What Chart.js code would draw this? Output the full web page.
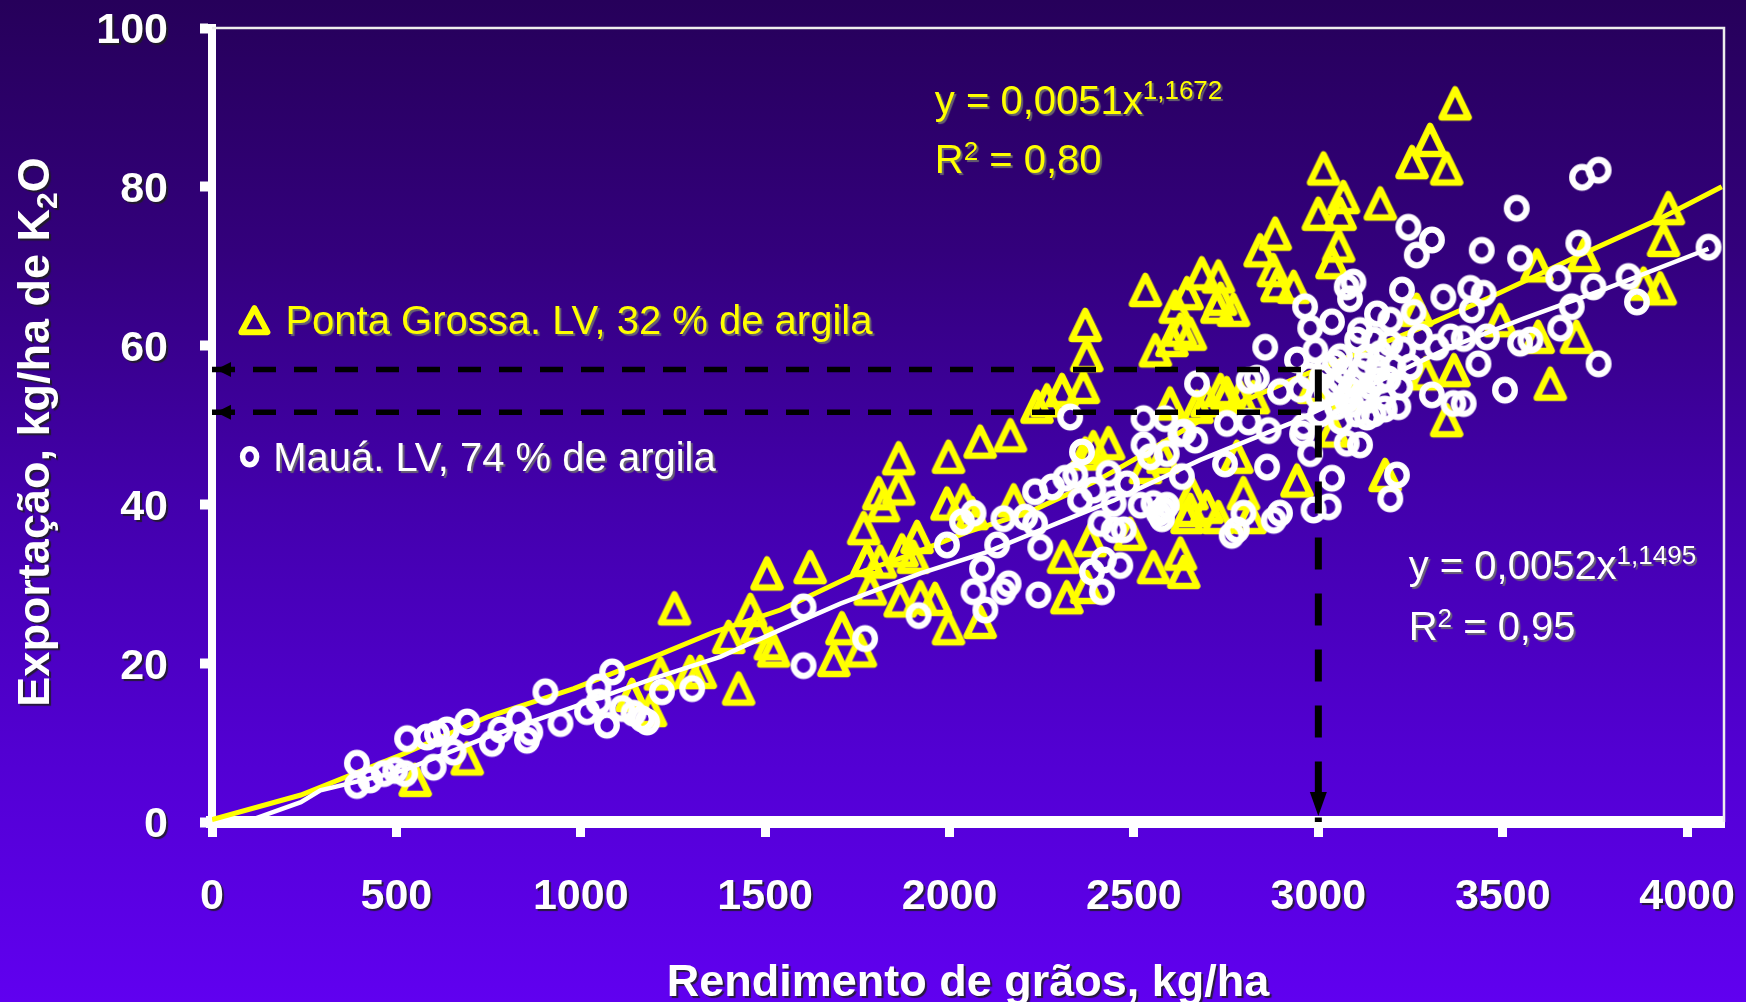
<!DOCTYPE html>
<html>
<head>
<meta charset="utf-8">
<title>Exportação de K2O</title>
<script src="https://cdn.jsdelivr.net/npm/chart.js@4.4.1/dist/chart.umd.min.js"></script>
<style>
  html, body { margin: 0; padding: 0; }
  body {
    width: 1746px; height: 1002px; overflow: hidden;
    background: linear-gradient(to bottom, #26005a 0%, #33007c 25%, #4300ac 50%, #5200d2 75%, #6000f0 100%);
  }
  canvas { display: block; }
</style>
</head>
<body>
<canvas id="chart" width="1746" height="1002"></canvas>
<script>
// Ponta Grossa, LV 32 % argila (triângulos)
const pontaX = [551, 692, 1139, 1189, 1216, 1254, 1297, 1324, 1401, 1428,
  1460, 1478, 1505, 1514, 1523, 1622, 1686, 1708, 1758, 1767,
  1776, 1785, 1808, 1812, 1821, 1862, 1862, 1866, 1871, 1902,
  1912, 1921, 1961, 1993, 1997, 1997, 2038, 2061, 2083, 2083,
  2165, 2174, 2237, 2264, 2305, 2309, 2318, 2363, 2368, 2372,
  2368, 2372, 2381, 2390, 2431, 2490, 2531, 2531, 2553, 2558,
  2579, 2598, 2603, 2612, 2626, 2626, 2635, 2644, 2644, 2653,
  2653, 2657, 2671, 2684, 2698, 2698, 2725, 2729, 2729, 2735,
  2735, 2752, 2770, 2779, 2788, 2797, 2815, 2824, 2842, 2878,
  2883, 2888, 2933, 2942, 2987, 3000, 3014, 3037, 3040, 3055,
  3059, 3068, 3080, 3168, 3181, 3254, 3267, 3291, 3303, 3348,
  3348, 3368, 3371, 3493, 3593, 3596, 3629, 3700, 3720, 3882,
  3927, 3936, 3949];
const pontaY = [5.3, 8.0, 16.0, 14.1, 18.7, 26.9, 18.9, 18.9, 23.3, 16.8,
  26.7, 24.6, 31.3, 22.5, 21.6, 32.1, 20.4, 24.4, 21.6, 37.0,
  33.0, 29.4, 41.4, 32.8, 39.9, 45.8, 42.0, 27.9, 34.2, 33.4,
  35.9, 28.3, 28.1, 40.1, 46.0, 24.4, 40.5, 38.9, 47.9, 25.2,
  48.7, 40.5, 52.3, 53.1, 54.4, 33.4, 28.3, 54.8, 62.6, 58.8,
  46.4, 29.6, 35.5, 47.2, 47.7, 36.3, 67.0, 44.7, 32.1, 59.4,
  46.0, 52.7, 60.7, 64.9, 62.0, 33.8, 31.5, 66.6, 38.4, 61.5,
  39.3, 41.4, 52.3, 69.1, 53.1, 39.7, 64.9, 68.7, 38.4, 65.9,
  54.4, 54.0, 64.5, 46.0, 53.5, 41.4, 38.4, 53.5, 72.0, 69.5,
  74.1, 67.6, 67.4, 43.0, 54.8, 76.6, 82.3, 70.5, 49.3, 72.6,
  76.6, 78.7, 54.0, 77.9, 43.7, 83.1, 64.5, 56.5, 85.9, 82.3,
  50.6, 56.9, 90.5, 63.2, 70.1, 61.1, 55.2, 61.1, 71.4, 67.8,
  67.2, 73.3, 77.3];

// Mauá, LV 74 % argila (círculos)
const mauaX = [393, 393, 429, 466, 497, 524, 529, 583, 601, 610,
  637, 655, 692, 759, 782, 832, 854, 863, 904, 945,
  1017, 1048, 1048, 1071, 1085, 1112, 1143, 1166, 1180, 1220,
  1302, 1604, 1604, 1771, 1916, 1993, 2034, 2065, 2088, 2065,
  2097, 2129, 2146, 2160, 2146, 2205, 2232, 2246, 2241, 2232,
  2278, 2314, 2341, 2359, 2327, 2386, 2418, 2463, 2413, 2354,
  2390, 2431, 2445, 2481, 2409, 2445, 2472, 2518, 2567, 2589,
  2526, 2585, 2526, 2544, 2589, 2626, 2666, 2630, 2671, 2856,
  2942, 2992, 2978, 2964, 3037, 3077, 3095, 2811, 2833, 2896,
  2635, 2752, 2811, 2865, 2956, 2747, 2861, 2978, 3037, 2987,
  3028, 2896, 2879, 2797, 2779, 2765, 3077, 3113, 2553, 2580,
  2576, 3760, 3715, 3538, 3244, 3308, 3267, 3443, 3547, 3705,
  4058, 3651, 3746, 3841, 3864, 3687, 3339, 3227, 3412, 3448,
  3416, 3086, 3159, 3113, 3195, 3258, 3276, 3195, 3150, 3105,
  3358, 3394, 3457, 3434, 3547, 3575, 3656, 3760, 3506, 3308,
  3366, 3394, 3321, 3249, 3217, 3132, 3213, 3195, 3059, 3086,
  3113, 3141, 3168, 3177, 3132, 3077, 3050, 3104, 3150, 3204,
  3222, 3023, 3005, 2960, 3023, 3168, 3132, 3059, 3000, 3040,
  3010, 3045, 3070, 3095, 3125, 3160, 3190, 3060, 3090, 3120,
  3180, 3230, 2950, 2975];
const mauaY = [7.4, 4.6, 5.3, 6.1, 6.5, 6.1, 10.5, 10.7, 6.9, 11.1,
  11.6, 8.8, 12.6, 9.9, 11.6, 13.0, 10.3, 11.3, 16.4, 12.4,
  13.9, 17.0, 15.1, 12.2, 18.9, 14.3, 13.7, 13.0, 12.6, 16.4,
  16.8, 27.1, 19.7, 23.1, 26.0, 34.9, 37.8, 38.9, 31.9, 29.0,
  26.7, 34.9, 38.2, 30.0, 29.0, 38.4, 37.6, 34.6, 28.6, 41.6,
  42.2, 43.3, 43.7, 46.6, 51.0, 31.5, 33.0, 32.3, 29.0, 40.5,
  41.8, 43.9, 40.1, 42.6, 37.6, 36.8, 36.8, 39.9, 38.9, 39.9,
  50.8, 50.8, 47.5, 46.0, 46.4, 48.9, 48.1, 43.5, 55.2, 59.8,
  58.2, 59.4, 62.2, 64.9, 63.0, 67.4, 68.0, 55.6, 55.9, 54.2,
  49.1, 50.2, 50.4, 49.3, 48.9, 45.1, 44.7, 46.4, 43.3, 39.3,
  39.7, 38.9, 38.0, 38.9, 36.8, 36.1, 47.7, 47.5, 40.1, 39.3,
  38.2, 82.1, 81.2, 77.3, 74.9, 73.3, 71.4, 72.0, 71.0, 72.9,
  72.4, 68.5, 67.4, 68.7, 65.5, 64.9, 66.1, 67.0, 67.2, 66.6,
  64.5, 65.9, 64.0, 61.9, 63.2, 64.2, 61.1, 60.3, 60.7, 60.7,
  61.1, 60.9, 61.1, 57.7, 60.3, 60.7, 62.2, 57.7, 54.4, 53.8,
  52.7, 52.7, 59.8, 57.3, 52.3, 51.0, 43.7, 40.7, 55.6, 54.4,
  56.5, 54.8, 55.6, 53.5, 53.1, 53.1, 52.3, 51.4, 51.4, 57.3,
  54.8, 54.0, 51.4, 49.8, 57.3, 59.0, 58.6, 58.6, 53.5, 55.0,
  56.0, 57.8, 56.8, 55.2, 57.5, 57.2, 55.8, 50.5, 52.6, 53.9,
  52.0, 59.5, 54.5, 56.2];

// curvas ajustadas (potência), lidas ponto a ponto
const fitPontaX = [0, 241, 520, 746, 981, 1189, 1360, 1541, 1749, 1902, 2047,
  2219, 2400, 2499, 2680, 2924, 3276, 3466, 3710, 3918, 4094];
const fitPontaY = [0.3, 3.4, 8.6, 13.2, 16.8, 20.6, 23.9, 26.7, 31.3, 33.8, 36.5,
  39.1, 43.0, 45.6, 50.6, 55.6, 62.2, 66.1, 71.4, 75.8, 80.0];
const fitMauaX = [90, 241, 294, 520, 746, 981, 1198, 1378, 1541, 1704, 1921,
  2101, 2291, 2445, 2680, 2924, 3358, 3556, 3782, 4058];
const fitMauaY = [0, 2.5, 4.0, 6.5, 10.7, 14.5, 18.1, 20.8, 24.2, 27.5, 31.3,
  34.0, 37.6, 40.5, 45.6, 50.2, 59.8, 63.4, 67.2, 72.2];

// leitura em 3000 kg/ha
const guideX = 3000;
const guidePonta = 57;
const guideMaua = 51.6;

const xTicks = [0, 500, 1000, 1500, 2000, 2500, 3000, 3500, 4000];
const yTicks = [0, 20, 40, 60, 80, 100];

const FONT = '"Liberation Sans", Arial, Helvetica, sans-serif';
const YELLOW = '#ffff00';

function toPoints(xs, ys) {
  return xs.map((x, i) => ({ x: x, y: ys[i] }));
}

function trianglePath(g, cx, cy, w, h) {
  g.beginPath();
  g.moveTo(cx, cy - h / 2);
  g.lineTo(cx + w / 2, cy + h / 2);
  g.lineTo(cx - w / 2, cy + h / 2);
  g.closePath();
}

function triangleMarker(color) {
  const c = document.createElement('canvas');
  c.width = 40; c.height = 40;
  const g = c.getContext('2d');
  g.strokeStyle = color;
  g.lineWidth = 6.5;
  g.lineJoin = 'round';
  trianglePath(g, 20, 20, 27, 28);
  g.stroke();
  return c;
}

function circleMarker(color) {
  const c = document.createElement('canvas');
  c.width = 32; c.height = 32;
  const g = c.getContext('2d');
  g.strokeStyle = color;
  g.lineWidth = 6.3;
  g.beginPath();
  g.ellipse(16, 16, 9.8, 10.3, 0, 0, Math.PI * 2);
  g.stroke();
  return c;
}

// texto com partes de tamanhos diferentes (expoentes, índices)
function richText(ctx, parts, x, y, align) {
  let total = 0;
  parts.forEach(p => {
    ctx.font = (p.bold ? 'bold ' : '') + p.size + 'px ' + FONT;
    total += ctx.measureText(p.text).width;
  });
  let cx = align === 'center' ? x - total / 2 : x;
  ctx.textAlign = 'left';
  ctx.textBaseline = 'alphabetic';
  parts.forEach(p => {
    ctx.font = (p.bold ? 'bold ' : '') + p.size + 'px ' + FONT;
    ctx.fillText(p.text, cx, y - (p.raise || 0));
    cx += ctx.measureText(p.text).width;
  });
}

function shadow(ctx, color) {
  ctx.shadowColor = color;
  ctx.shadowOffsetX = 2;
  ctx.shadowOffsetY = 2;
  ctx.shadowBlur = 1;
}

const decorations = {
  id: 'decorations',
  beforeDatasetsDraw(chart) {
    const { ctx, chartArea } = chart;
    ctx.save();
    ctx.strokeStyle = '#eeeeee';
    ctx.lineWidth = 2.5;
    ctx.beginPath();
    ctx.moveTo(chartArea.left, chartArea.top);
    ctx.lineTo(chartArea.right, chartArea.top);
    ctx.lineTo(chartArea.right, chartArea.bottom);
    ctx.stroke();
    ctx.restore();
  },
  afterDatasetsDraw(chart) {
    const { ctx } = chart;
    const xs = chart.scales.x, ys = chart.scales.y;
    ctx.save();
    ctx.fillStyle = '#000';
    // setas apontando para o eixo y
    [guidePonta, guideMaua].forEach(v => {
      const tx = xs.getPixelForValue(0) + 4;
      const ty = ys.getPixelForValue(v);
      ctx.beginPath();
      ctx.moveTo(tx, ty);
      ctx.lineTo(tx + 15, ty - 7.5);
      ctx.lineTo(tx + 15, ty + 7.5);
      ctx.closePath();
      ctx.fill();
    });
    // seta apontando para o eixo x
    const ax = xs.getPixelForValue(guideX);
    const ay = ys.getPixelForValue(0) - 6;
    ctx.beginPath();
    ctx.moveTo(ax, ay);
    ctx.lineTo(ax - 8.5, ay - 24);
    ctx.lineTo(ax + 8.5, ay - 24);
    ctx.closePath();
    ctx.fill();
    ctx.restore();
  },
  afterDraw(chart) {
    const { ctx, chartArea } = chart;
    const xs = chart.scales.x, ys = chart.scales.y;
    ctx.save();

    // rótulos dos eixos
    shadow(ctx, 'rgba(30,30,30,0.85)');
    ctx.fillStyle = '#ffffff';
    ctx.font = 'bold 43px ' + FONT;
    ctx.textBaseline = 'alphabetic';
    ctx.textAlign = 'center';
    xs.ticks.forEach(t => {
      ctx.fillText(String(t.value), xs.getPixelForValue(t.value), ys.getPixelForValue(0) + 72 + 15.4);
    });
    ctx.textAlign = 'right';
    ys.ticks.forEach(t => {
      ctx.fillText(String(t.value), xs.getPixelForValue(0) - 44, ys.getPixelForValue(t.value) + 15.4);
    });

    // títulos
    richText(ctx, [{ text: 'Rendimento de grãos, kg/ha', size: 45, bold: true }],
      (chartArea.left + chartArea.right) / 2, 996, 'center');
    ctx.save();
    ctx.translate(33, 432);
    ctx.rotate(-Math.PI / 2);
    richText(ctx, [
      { text: 'Exportação, kg/ha de K', size: 45, bold: true },
      { text: '2', size: 30, bold: true, raise: -8 },
      { text: 'O', size: 45, bold: true }
    ], 0, 16, 'center');
    ctx.restore();

    // equações
    shadow(ctx, 'rgba(110,110,110,0.9)');
    ctx.fillStyle = YELLOW;
    const ex1 = xs.getPixelForValue(1960);
    richText(ctx, [
      { text: 'y = 0,0051x', size: 40 },
      { text: '1,1672', size: 26, raise: 15 }
    ], ex1, ys.getPixelForValue(91.0) + 14.3, 'left');
    richText(ctx, [
      { text: 'R', size: 40 },
      { text: '2', size: 26, raise: 13 },
      { text: ' = 0,80', size: 40 }
    ], ex1, ys.getPixelForValue(83.5) + 14.3, 'left');

    ctx.fillStyle = '#ffffff';
    const ex2 = xs.getPixelForValue(3245);
    richText(ctx, [
      { text: 'y = 0,0052x', size: 40 },
      { text: '1,1495', size: 26, raise: 15 }
    ], ex2, ys.getPixelForValue(32.4) + 14.3, 'left');
    richText(ctx, [
      { text: 'R', size: 40 },
      { text: '2', size: 26, raise: 13 },
      { text: ' = 0,95', size: 40 }
    ], ex2, ys.getPixelForValue(24.7) + 14.3, 'left');

    // legenda
    ctx.fillStyle = YELLOW;
    richText(ctx, [{ text: 'Ponta Grossa. LV, 32 % de argila', size: 40 }],
      xs.getPixelForValue(199), ys.getPixelForValue(63.2) + 14.3, 'left');
    ctx.fillStyle = '#ffffff';
    richText(ctx, [{ text: 'Mauá. LV, 74 % de argila', size: 40 }],
      xs.getPixelForValue(166), ys.getPixelForValue(46.0) + 14.3, 'left');

    ctx.shadowColor = 'transparent';
    ctx.strokeStyle = YELLOW;
    ctx.lineWidth = 6;
    ctx.lineJoin = 'round';
    trianglePath(ctx, xs.getPixelForValue(115), ys.getPixelForValue(63.2), 26, 24);
    ctx.stroke();
    ctx.strokeStyle = '#ffffff';
    ctx.lineWidth = 5.5;
    ctx.beginPath();
    ctx.ellipse(xs.getPixelForValue(102), ys.getPixelForValue(46.0), 7, 8, 0, 0, Math.PI * 2);
    ctx.stroke();

    ctx.restore();
  }
};

const ctx = document.getElementById('chart');

const chart = new Chart(ctx, {
  type: 'scatter',
  data: {
    datasets: [
      {
        label: 'guia Ponta Grossa',
        data: [{ x: 0, y: guidePonta }, { x: guideX, y: guidePonta }],
        showLine: true, pointRadius: 0, borderColor: '#000', borderWidth: 5.5,
        borderDash: [23, 18], order: 0
      },
      {
        label: 'guia Mauá',
        data: [{ x: 0, y: guideMaua }, { x: guideX, y: guideMaua }],
        showLine: true, pointRadius: 0, borderColor: '#000', borderWidth: 5.5,
        borderDash: [23, 18], order: 0
      },
      {
        label: 'guia 3000',
        data: [{ x: guideX, y: guidePonta }, { x: guideX, y: 0 }],
        showLine: true, pointRadius: 0, borderColor: '#000', borderWidth: 7,
        borderDash: [32, 24], order: 0
      },
      {
        label: 'Mauá',
        data: toPoints(mauaX, mauaY),
        pointStyle: circleMarker('#ffffff'), pointRadius: 10, order: 1
      },
      {
        label: 'ajuste Mauá',
        data: toPoints(fitMauaX, fitMauaY),
        showLine: true, pointRadius: 0, borderColor: '#ffffff', borderWidth: 4.5, order: 2
      },
      {
        label: 'ajuste Ponta Grossa',
        data: toPoints(fitPontaX, fitPontaY),
        showLine: true, pointRadius: 0, borderColor: YELLOW, borderWidth: 5, order: 3
      },
      {
        label: 'Ponta Grossa',
        data: toPoints(pontaX, pontaY),
        pointStyle: triangleMarker(YELLOW), pointRadius: 12, order: 4
      }
    ]
  },
  options: {
    responsive: false,
    animation: false,
    layout: { padding: { top: 28, right: 22, left: 0, bottom: 0 } },
    plugins: {
      legend: { display: false },
      tooltip: { enabled: false }
    },
    scales: {
      x: {
        type: 'linear',
        min: 0,
        max: 4100,
        afterBuildTicks: s => { s.ticks = xTicks.map(v => ({ value: v })); },
        afterFit: s => { s.height = 180; },
        ticks: { display: false },
        grid: { drawOnChartArea: false, drawTicks: true, tickLength: 15, tickWidth: 9, tickColor: '#ffffff' },
        border: { display: true, color: '#ffffff', width: 12 }
      },
      y: {
        type: 'linear',
        min: 0,
        max: 100,
        afterBuildTicks: s => { s.ticks = yTicks.map(v => ({ value: v })); },
        afterFit: s => { s.width = 212; },
        ticks: { display: false },
        grid: { drawOnChartArea: false, drawTicks: true, tickLength: 12, tickWidth: 10, tickColor: '#ffffff' },
        border: { display: true, color: '#ffffff', width: 8 }
      }
    }
  },
  plugins: [decorations]
});
</script>
</body>
</html>
